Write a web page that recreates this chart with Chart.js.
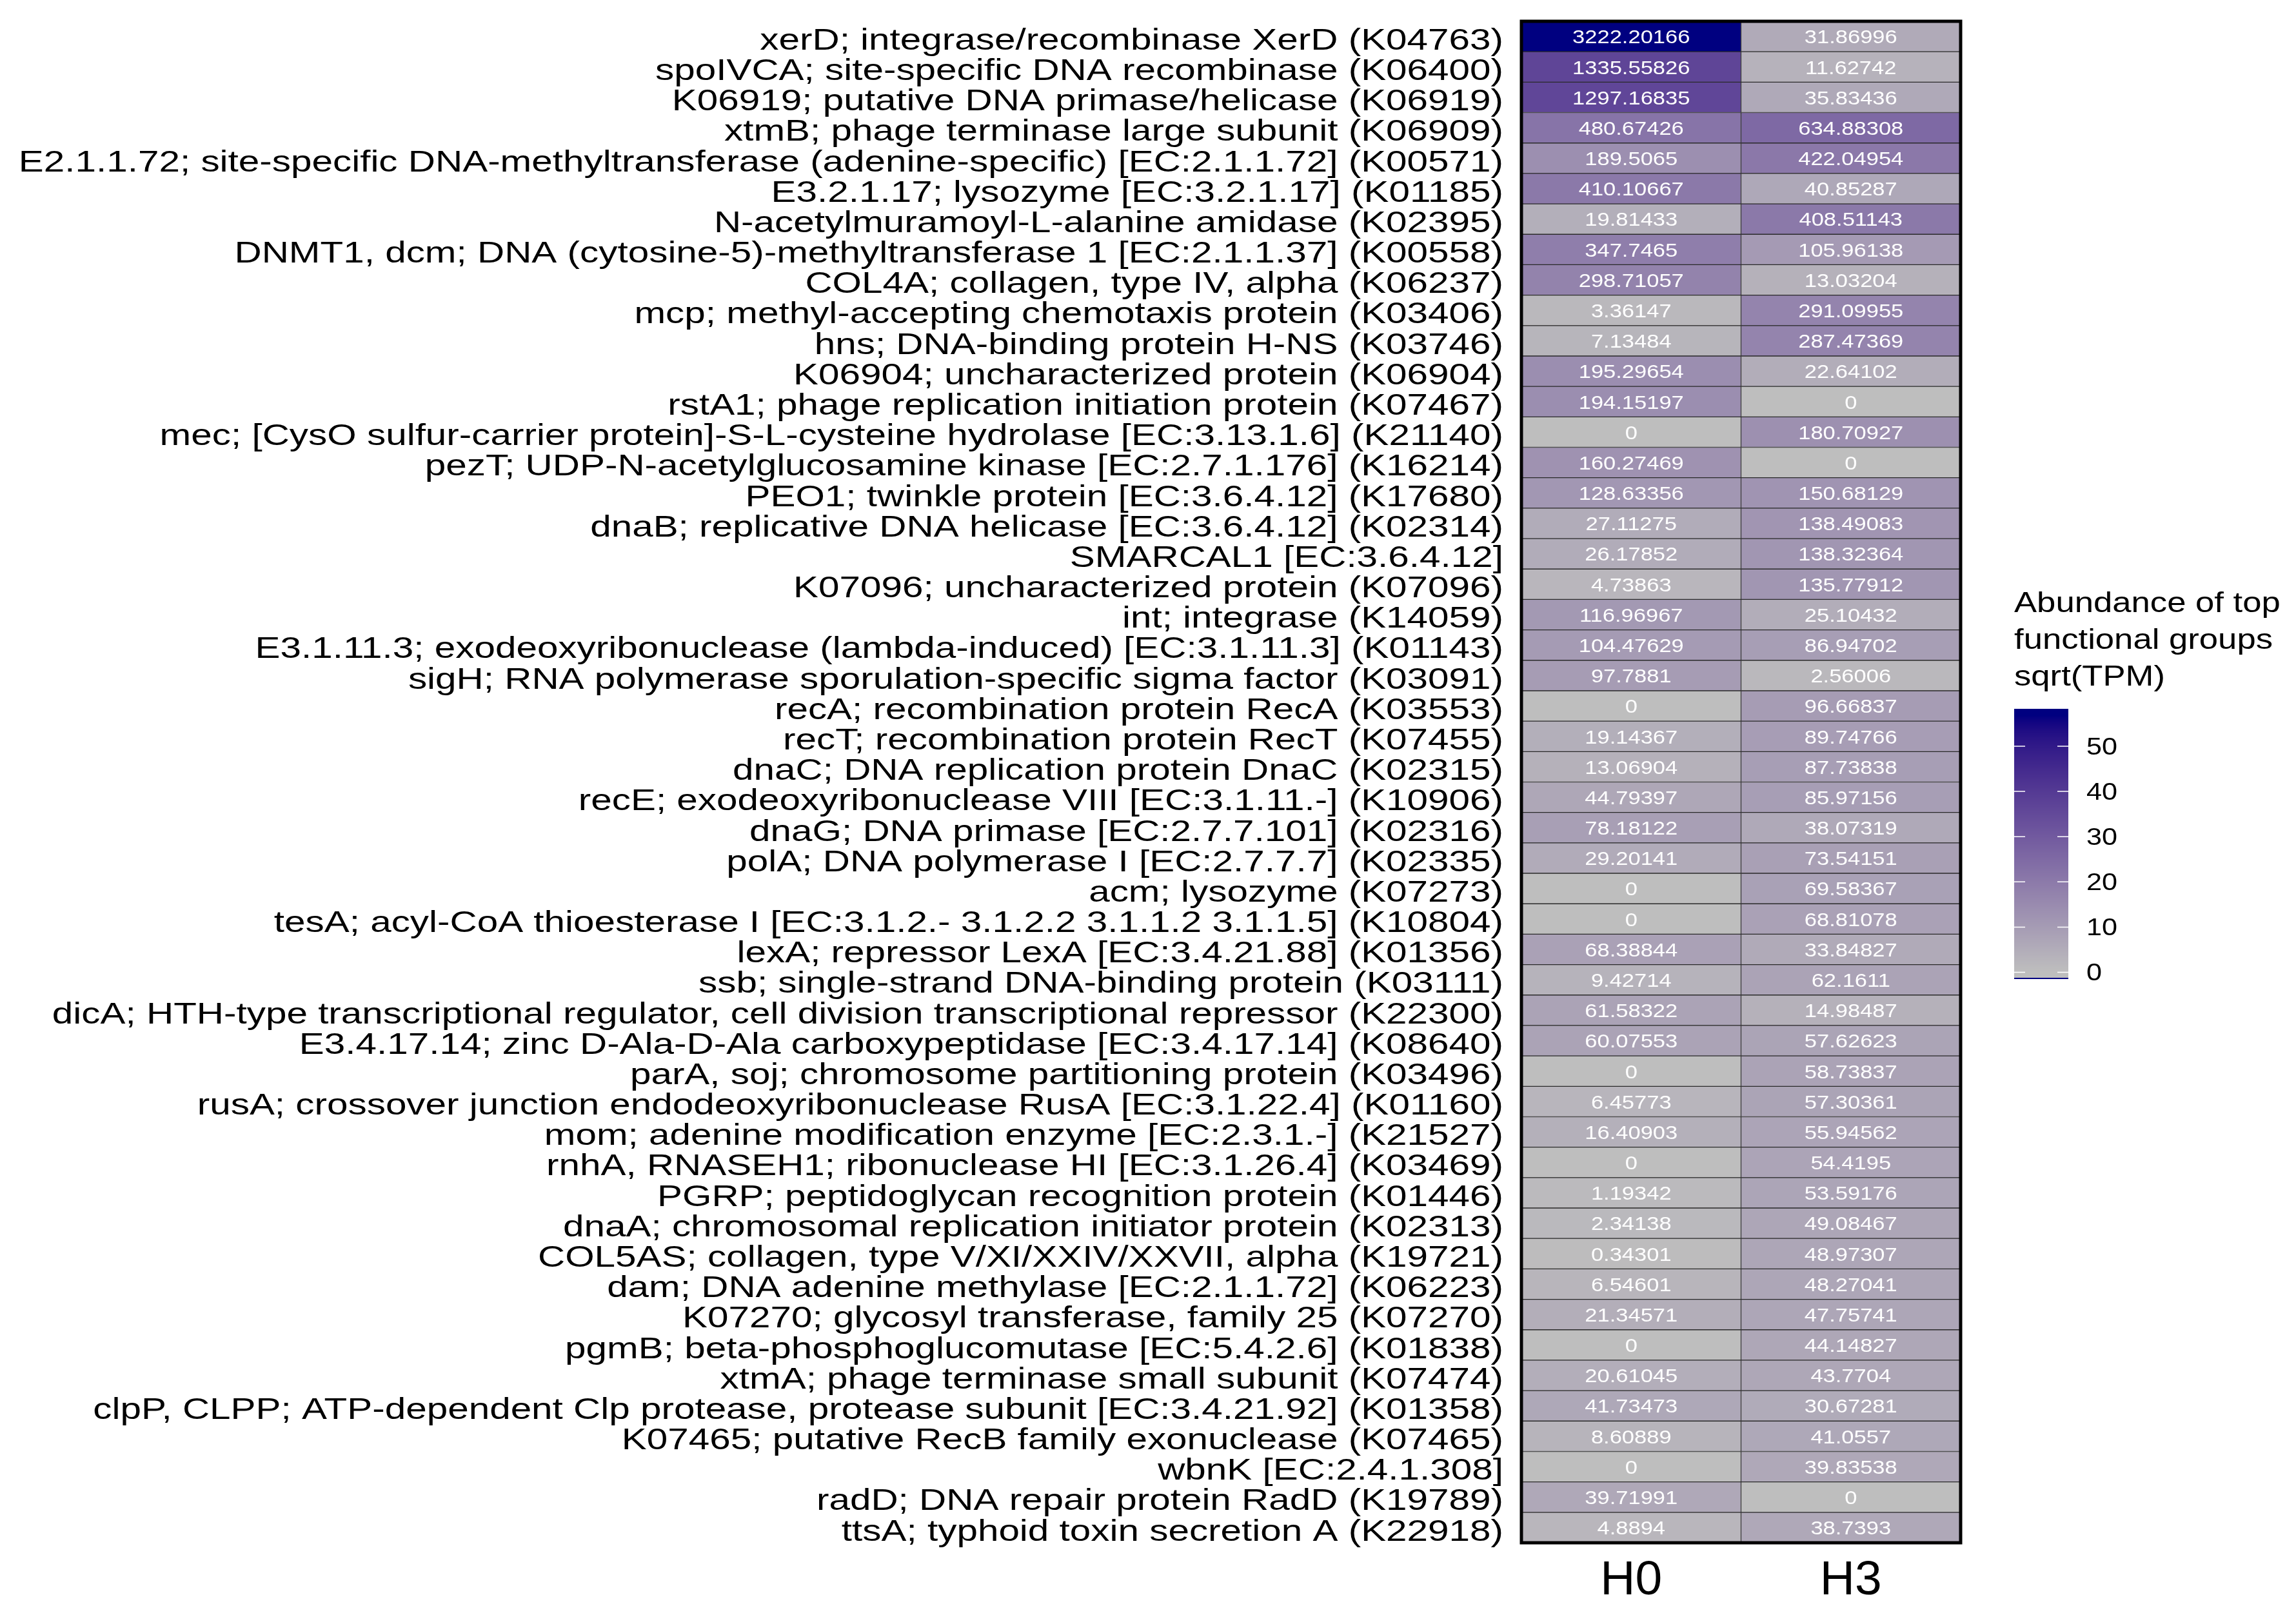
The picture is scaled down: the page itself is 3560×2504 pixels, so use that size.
<!DOCTYPE html>
<html><head><meta charset="utf-8">
<script src="https://cdn.jsdelivr.net/npm/chart.js@4"></script>
<style>html,body{margin:0;padding:0;background:#fff;overflow:hidden}</style>
</head><body>
<canvas id="c" width="3560" height="2504"></canvas>
<script>
const functions = [
"xerD; integrase/recombinase XerD (K04763)",
"spoIVCA; site-specific DNA recombinase (K06400)",
"K06919; putative DNA primase/helicase (K06919)",
"xtmB; phage terminase large subunit (K06909)",
"E2.1.1.72; site-specific DNA-methyltransferase (adenine-specific) [EC:2.1.1.72] (K00571)",
"E3.2.1.17; lysozyme [EC:3.2.1.17] (K01185)",
"N-acetylmuramoyl-L-alanine amidase (K02395)",
"DNMT1, dcm; DNA (cytosine-5)-methyltransferase 1 [EC:2.1.1.37] (K00558)",
"COL4A; collagen, type IV, alpha (K06237)",
"mcp; methyl-accepting chemotaxis protein (K03406)",
"hns; DNA-binding protein H-NS (K03746)",
"K06904; uncharacterized protein (K06904)",
"rstA1; phage replication initiation protein (K07467)",
"mec; [CysO sulfur-carrier protein]-S-L-cysteine hydrolase [EC:3.13.1.6] (K21140)",
"pezT; UDP-N-acetylglucosamine kinase [EC:2.7.1.176] (K16214)",
"PEO1; twinkle protein [EC:3.6.4.12] (K17680)",
"dnaB; replicative DNA helicase [EC:3.6.4.12] (K02314)",
"SMARCAL1 [EC:3.6.4.12]",
"K07096; uncharacterized protein (K07096)",
"int; integrase (K14059)",
"E3.1.11.3; exodeoxyribonuclease (lambda-induced) [EC:3.1.11.3] (K01143)",
"sigH; RNA polymerase sporulation-specific sigma factor (K03091)",
"recA; recombination protein RecA (K03553)",
"recT; recombination protein RecT (K07455)",
"dnaC; DNA replication protein DnaC (K02315)",
"recE; exodeoxyribonuclease VIII [EC:3.1.11.-] (K10906)",
"dnaG; DNA primase [EC:2.7.7.101] (K02316)",
"polA; DNA polymerase I [EC:2.7.7.7] (K02335)",
"acm; lysozyme (K07273)",
"tesA; acyl-CoA thioesterase I [EC:3.1.2.- 3.1.2.2 3.1.1.2 3.1.1.5] (K10804)",
"lexA; repressor LexA [EC:3.4.21.88] (K01356)",
"ssb; single-strand DNA-binding protein (K03111)",
"dicA; HTH-type transcriptional regulator, cell division transcriptional repressor (K22300)",
"E3.4.17.14; zinc D-Ala-D-Ala carboxypeptidase [EC:3.4.17.14] (K08640)",
"parA, soj; chromosome partitioning protein (K03496)",
"rusA; crossover junction endodeoxyribonuclease RusA [EC:3.1.22.4] (K01160)",
"mom; adenine modification enzyme [EC:2.3.1.-] (K21527)",
"rnhA, RNASEH1; ribonuclease HI [EC:3.1.26.4] (K03469)",
"PGRP; peptidoglycan recognition protein (K01446)",
"dnaA; chromosomal replication initiator protein (K02313)",
"COL5AS; collagen, type V/XI/XXIV/XXVII, alpha (K19721)",
"dam; DNA adenine methylase [EC:2.1.1.72] (K06223)",
"K07270; glycosyl transferase, family 25 (K07270)",
"pgmB; beta-phosphoglucomutase [EC:5.4.2.6] (K01838)",
"xtmA; phage terminase small subunit (K07474)",
"clpP, CLPP; ATP-dependent Clp protease, protease subunit [EC:3.4.21.92] (K01358)",
"K07465; putative RecB family exonuclease (K07465)",
"wbnK [EC:2.4.1.308]",
"radD; DNA repair protein RadD (K19789)",
"ttsA; typhoid toxin secretion A (K22918)"
];
const samples = ["H0", "H3"];
const tpmH0 = [3222.20166,1335.55826,1297.16835,480.67426,189.5065,410.10667,19.81433,347.7465,298.71057,3.36147,
7.13484,195.29654,194.15197,0,160.27469,128.63356,27.11275,26.17852,4.73863,116.96967,
104.47629,97.7881,0,19.14367,13.06904,44.79397,78.18122,29.20141,0,0,
68.38844,9.42714,61.58322,60.07553,0,6.45773,16.40903,0,1.19342,2.34138,
0.34301,6.54601,21.34571,0,20.61045,41.73473,8.60889,0,39.71991,4.8894];
const tpmH3 = [31.86996,11.62742,35.83436,634.88308,422.04954,40.85287,408.51143,105.96138,13.03204,291.09955,
287.47369,22.64102,0,180.70927,0,150.68129,138.49083,138.32364,135.77912,25.10432,
86.94702,2.56006,96.66837,89.74766,87.73838,85.97156,38.07319,73.54151,69.58367,68.81078,
33.84827,62.1611,14.98487,57.62623,58.73837,57.30361,55.94562,54.4195,53.59176,49.08467,
48.97307,48.27041,47.75741,44.14827,43.7704,30.67281,41.0557,39.83538,0,38.7393];
const legendTicks = [0, 10, 20, 30, 40, 50];
const legendTitle = ["Abundance of top", "functional groups", "sqrt(TPM)"];
const lowColor = "#BEBEBE", highColor = "#000080";

const FONT = "'Liberation Sans', Arial, Helvetica, sans-serif";
const allVals = [tpmH0, tpmH3];
const maxSqrt = Math.max(...tpmH0.concat(tpmH3).map(Math.sqrt));

// --- Lab interpolation (like ggplot scale_fill_gradient) ---
function hex2rgb(h){h=h.replace('#','');return [0,2,4].map(i=>parseInt(h.substr(i,2),16));}
function lin(c){c/=255;return c<=0.04045?c/12.92:Math.pow((c+0.055)/1.055,2.4);}
function unlin(c){c=c<=0.0031308?12.92*c:1.055*Math.pow(c,1/2.4)-0.055;return Math.round(Math.max(0,Math.min(1,c))*255);}
const Xn=0.95047,Yn=1.0,Zn=1.08883;
function f(t){return t>0.008856?Math.cbrt(t):7.787*t+16/116;}
function finv(t){return t>0.206893?t*t*t:(t-16/116)/7.787;}
function rgb2lab(rgb){const [r,g,b]=rgb.map(lin);
 const X=r*0.4124+g*0.3576+b*0.1805, Y=r*0.2126+g*0.7152+b*0.0722, Z=r*0.0193+g*0.1192+b*0.9505;
 const fx=f(X/Xn),fy=f(Y/Yn),fz=f(Z/Zn);return [116*fy-16,500*(fx-fy),200*(fy-fz)];}
function lab2rgb(lab){const fy=(lab[0]+16)/116,fx=fy+lab[1]/500,fz=fy-lab[2]/200;
 const X=Xn*finv(fx),Y=Yn*finv(fy),Z=Zn*finv(fz);
 const r=X*3.2406+Y*-1.5372+Z*-0.4986,g=X*-0.9689+Y*1.8758+Z*0.0415,b=X*0.0557+Y*-0.2040+Z*1.0570;
 return [unlin(r),unlin(g),unlin(b)];}
const labLo=rgb2lab(hex2rgb(lowColor)), labHi=rgb2lab(hex2rgb(highColor));
function colorFor(sq){const t=Math.max(0,Math.min(1,sq/maxSqrt));
 const c=lab2rgb([0,1,2].map(i=>labLo[i]+(labHi[i]-labLo[i])*t));return `rgb(${c[0]},${c[1]},${c[2]})`;}

// text drawn with a horizontal stretch (the reference glyphs are wider than Arial)
function stretchText(ctx, text, x, y, sx, align){
  ctx.save(); ctx.translate(x, y); ctx.scale(sx, 1);
  ctx.textAlign = align; ctx.textBaseline = 'alphabetic';
  ctx.fillText(text, 0, 0); ctx.restore();
}

const LABEL_SIZE = 46, LABEL_SX = 1.27;
const CELL_SIZE = 30, CELL_SX = 1.15;

const cellPlugin = {
  id: 'cells',
  afterDatasetsDraw(chart){
    const ctx=chart.ctx;
    ctx.save();
    ctx.fillStyle='#ffffff';
    ctx.font=`${CELL_SIZE}px ${FONT}`;
    chart.data.datasets.forEach((ds,di)=>{
      const meta=chart.getDatasetMeta(di);
      meta.data.forEach((el,i)=>{
        const cx=(el.x+el.base)/2;
        stretchText(ctx, String(allVals[di][i]), cx, el.y+0.36*CELL_SIZE, CELL_SX, 'center');
      });
    });
    const a=chart.chartArea;
    ctx.strokeStyle='#000';ctx.lineWidth=5;
    ctx.strokeRect(a.left,a.top,a.right-a.left,a.bottom-a.top);
    ctx.restore();
  },
  afterDraw(chart){
    const ctx=chart.ctx, a=chart.chartArea, ys=chart.scales.y;
    ctx.save();
    // row labels
    ctx.fillStyle='#000'; ctx.font=`${LABEL_SIZE}px ${FONT}`;
    functions.forEach((t,i)=>{
      stretchText(ctx, t, a.left-28, ys.getPixelForTick(i)+0.44*LABEL_SIZE, LABEL_SX, 'right');
    });
    // legend
    const x0=a.right+83;
    ctx.font=`45px ${FONT}`;
    legendTitle.forEach((t,i)=>stretchText(ctx,t,x0,949+i*57,1.17,'left'));
    const top=1099,bot=1518,w=84,H=bot-top,nbin=20;
    for(let y=top;y<bot;y++){
      const fr=(bot-(y+0.5))/H;
      const v=((fr*nbin-0.5)/(nbin-1))*maxSqrt;
      ctx.fillStyle=colorFor(v);ctx.fillRect(x0,y,w,1);
    }
    const yOf=v=>bot-H*(0.5+(nbin-1)*v/maxSqrt)/nbin;
    ctx.strokeStyle='#ffffff';ctx.lineWidth=1.5;
    ctx.font=`36px ${FONT}`;ctx.fillStyle='#000';
    legendTicks.forEach(v=>{
      const y=yOf(v);
      ctx.beginPath();ctx.moveTo(x0,y);ctx.lineTo(x0+17,y);ctx.moveTo(x0+w-17,y);ctx.lineTo(x0+w,y);ctx.stroke();
      stretchText(ctx,String(v),x0+w+28,y+0.36*36,1.2,'left');
    });
    ctx.fillStyle='#000080';ctx.fillRect(x0,bot-2,w,2);
    ctx.restore();
  }
};

new Chart(document.getElementById('c'), {
  type:'bar',
  data:{
    labels: functions,
    datasets: samples.map((s,di)=>({
      label:s,
      data: allVals[di].map(()=>1),
      backgroundColor: allVals[di].map(v=>colorFor(Math.sqrt(v))),
      borderColor:'#2a2a2a', borderWidth:1, borderSkipped:false,
      barPercentage:1, categoryPercentage:1
    }))
  },
  options:{
    indexAxis:'y', responsive:false, animation:false, devicePixelRatio:1,
    layout:{padding:{top:33,right:520,bottom:0,left:0}},
    plugins:{legend:{display:false},tooltip:{enabled:false}},
    scales:{
      x:{type:'linear',stacked:true,min:0,max:2,
        grid:{display:false,drawTicks:false},border:{display:false},
        afterBuildTicks:s=>{s.ticks=samples.map((_,i)=>({value:i+0.5}));},
        ticks:{callback:(v,i)=>samples[i],font:{family:FONT,size:75},color:'#000',padding:14,autoSkip:false,maxRotation:0},
        afterFit:s=>{s.height=112;s.paddingLeft=0;s.paddingRight=0;}
      },
      y:{stacked:true,grid:{display:false,drawTicks:false},border:{display:false},
        ticks:{display:false},
        afterFit:s=>{s.width=2359;s.paddingTop=0;s.paddingBottom=0;}
      }
    }
  },
  plugins:[cellPlugin]
});
</script>
</body></html>
